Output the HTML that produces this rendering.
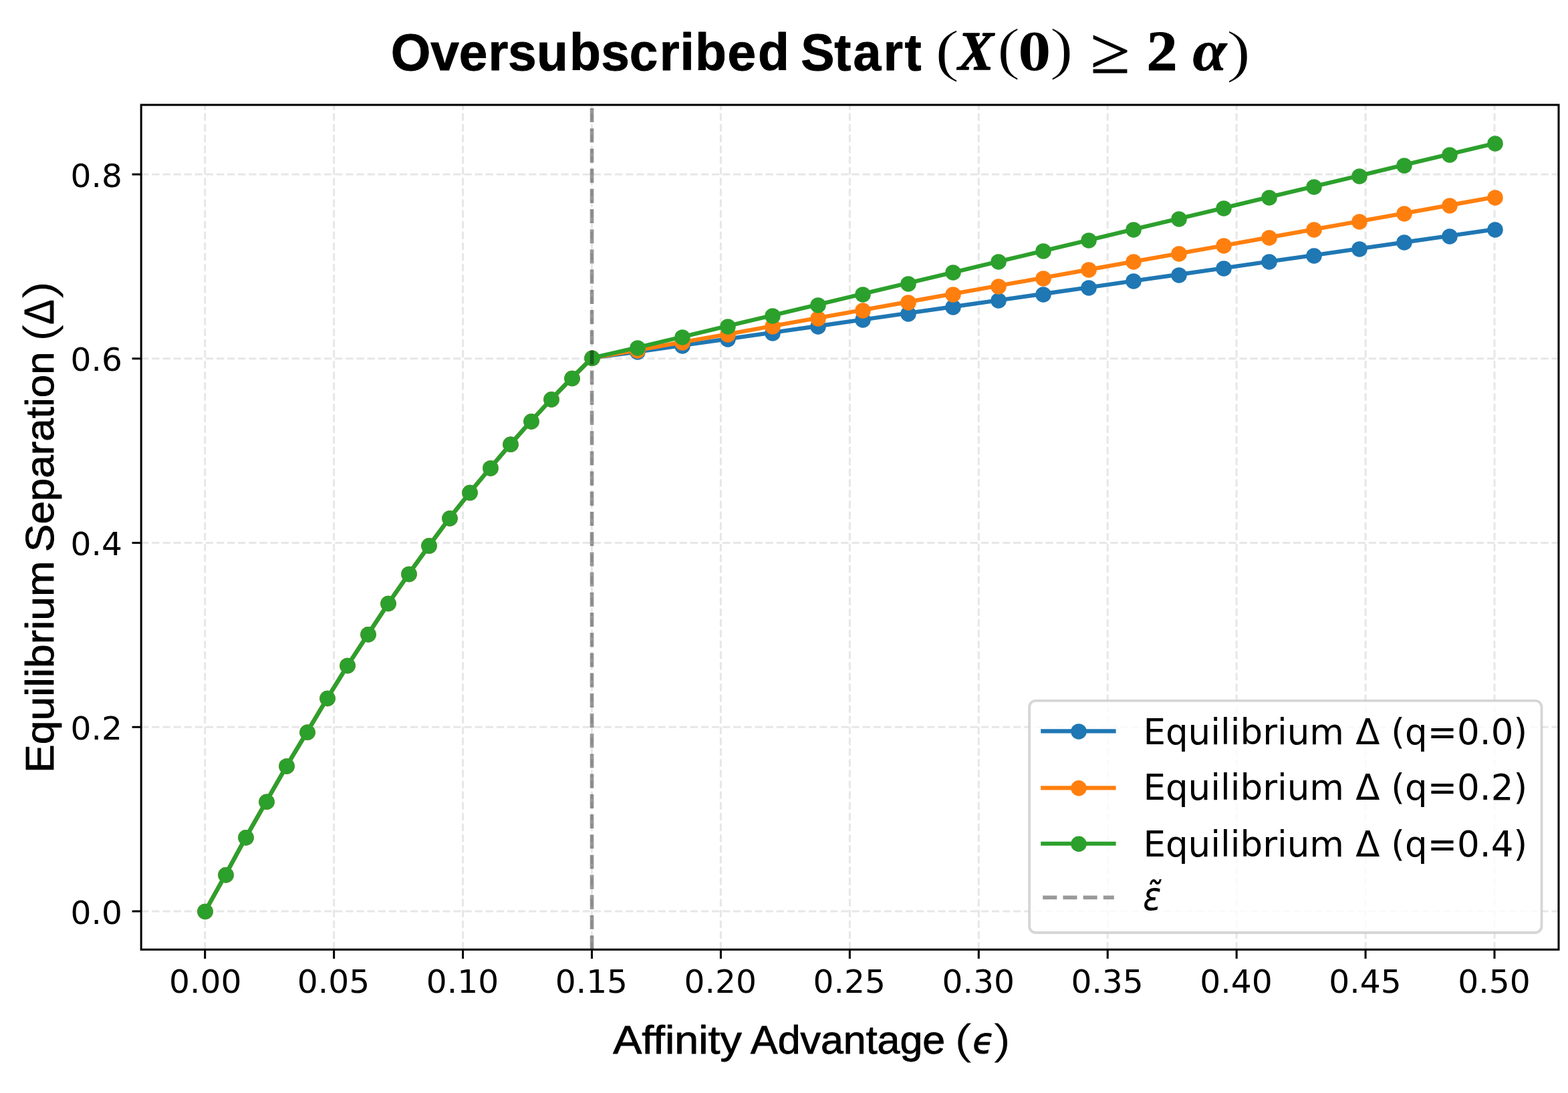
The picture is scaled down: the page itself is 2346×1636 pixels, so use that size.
<!DOCTYPE html>
<html lang="en"><head><meta charset="utf-8"><title>Oversubscribed Start (X(0) ≥ 2 α)</title>
<style>html,body{margin:0;padding:0;background:#fff}body{width:2346px;height:1636px;overflow:hidden}svg{display:block}</style></head>
<body>
<svg width="2346" height="1636" viewBox="0 0 2346 1636" role="img" aria-label="Oversubscribed Start line chart">
<rect width="2346" height="1636" fill="#fff"/>
<path d="M306.7 1421.3V157M499.63 1421.3V157M692.56 1421.3V157M885.49 1421.3V157M1078.42 1421.3V157M1271.35 1421.3V157M1464.28 1421.3V157M1657.21 1421.3V157M1850.14 1421.3V157M2043.07 1421.3V157M2236 1421.3V157M211.2 1364H2332M211.2 1088.25H2332M211.2 812.5H2332M211.2 536.75H2332M211.2 261H2332" fill="none" stroke="#b0b0b0" stroke-opacity="0.3" stroke-width="3.05" stroke-dasharray="11.25 4.86"/>
<g fill="#1f77b4" stroke="#1f77b4">
<path d="M307 1363.9L337.46 1309.2L367.93 1253.2L398.39 1199.8L428.85 1146.4L459.31 1095.8L489.78 1045L520.24 995.9L550.7 949.3L581.16 903L611.63 858.9L642.09 816.6L672.55 775.5L703.01 737.1L733.48 700.4L763.94 664.8L794.4 630.5L824.86 597.5L855.33 566L885.79 535.7L953.32 526.7L1020.84 517.05L1088.37 507.4L1155.89 497.75L1223.42 488.09L1290.94 478.44L1358.47 468.79L1425.99 459.14L1493.52 449.49L1561.04 439.84L1628.57 430.19L1696.1 420.54L1763.62 410.88L1831.15 401.23L1898.67 391.58L1966.2 381.93L2033.72 372.28L2101.25 362.63L2168.77 352.98L2236.3 343.33" fill="none" stroke-width="6.15" stroke-linejoin="round" stroke-linecap="square"/>
<g stroke="none"><circle cx="307" cy="1364.4" r="11.75"/><circle cx="338" cy="1309.7" r="11.75"/><circle cx="368" cy="1253.7" r="11.75"/><circle cx="399" cy="1200.3" r="11.75"/><circle cx="429" cy="1146.9" r="11.75"/><circle cx="460" cy="1096.3" r="11.75"/><circle cx="490" cy="1045.5" r="11.75"/><circle cx="520" cy="996.4" r="11.75"/><circle cx="551" cy="949.8" r="11.75"/><circle cx="581" cy="903.5" r="11.75"/><circle cx="612" cy="859.4" r="11.75"/><circle cx="642" cy="817.1" r="11.75"/><circle cx="673" cy="776" r="11.75"/><circle cx="703" cy="737.6" r="11.75"/><circle cx="734" cy="700.9" r="11.75"/><circle cx="764" cy="665.3" r="11.75"/><circle cx="795" cy="631" r="11.75"/><circle cx="825" cy="598" r="11.75"/><circle cx="856" cy="566.5" r="11.75"/><circle cx="886" cy="536.2" r="11.75"/><circle cx="954" cy="526.9" r="11.75"/><circle cx="1021" cy="517.9" r="11.75"/><circle cx="1089" cy="507.9" r="11.75"/><circle cx="1156" cy="498.9" r="11.75"/><circle cx="1224" cy="488.9" r="11.75"/><circle cx="1291" cy="478.9" r="11.75"/><circle cx="1359" cy="469.9" r="11.75"/><circle cx="1426" cy="459.9" r="11.75"/><circle cx="1494" cy="449.9" r="11.75"/><circle cx="1561" cy="440.9" r="11.75"/><circle cx="1629" cy="430.9" r="11.75"/><circle cx="1696" cy="420.9" r="11.75"/><circle cx="1764" cy="411.9" r="11.75"/><circle cx="1831" cy="401.9" r="11.75"/><circle cx="1899" cy="391.9" r="11.75"/><circle cx="1966" cy="382.9" r="11.75"/><circle cx="2034" cy="372.9" r="11.75"/><circle cx="2101" cy="362.9" r="11.75"/><circle cx="2169" cy="353.9" r="11.75"/><circle cx="2237" cy="343.9" r="11.75"/></g>
</g>
<g fill="#ff7f0e" stroke="#ff7f0e">
<path d="M307 1363.9L337.46 1309.2L367.93 1253.2L398.39 1199.8L428.85 1146.4L459.31 1095.8L489.78 1045L520.24 995.9L550.7 949.3L581.16 903L611.63 858.9L642.09 816.6L672.55 775.5L703.01 737.1L733.48 700.4L763.94 664.8L794.4 630.5L824.86 597.5L855.33 566L885.79 535.7L953.32 524.29L1020.84 512.22L1088.37 500.16L1155.89 488.09L1223.42 476.03L1290.94 463.97L1358.47 451.9L1425.99 439.84L1493.52 427.77L1561.04 415.71L1628.57 403.65L1696.1 391.58L1763.62 379.52L1831.15 367.45L1898.67 355.39L1966.2 343.33L2033.72 331.26L2101.25 319.2L2168.77 307.13L2236.3 295.07" fill="none" stroke-width="6.15" stroke-linejoin="round" stroke-linecap="square"/>
<g stroke="none"><circle cx="307" cy="1364.4" r="11.75"/><circle cx="338" cy="1309.7" r="11.75"/><circle cx="368" cy="1253.7" r="11.75"/><circle cx="399" cy="1200.3" r="11.75"/><circle cx="429" cy="1146.9" r="11.75"/><circle cx="460" cy="1096.3" r="11.75"/><circle cx="490" cy="1045.5" r="11.75"/><circle cx="520" cy="996.4" r="11.75"/><circle cx="551" cy="949.8" r="11.75"/><circle cx="581" cy="903.5" r="11.75"/><circle cx="612" cy="859.4" r="11.75"/><circle cx="642" cy="817.1" r="11.75"/><circle cx="673" cy="776" r="11.75"/><circle cx="703" cy="737.6" r="11.75"/><circle cx="734" cy="700.9" r="11.75"/><circle cx="764" cy="665.3" r="11.75"/><circle cx="795" cy="631" r="11.75"/><circle cx="825" cy="598" r="11.75"/><circle cx="856" cy="566.5" r="11.75"/><circle cx="886" cy="536.2" r="11.75"/><circle cx="954" cy="524.9" r="11.75"/><circle cx="1021" cy="512.9" r="11.75"/><circle cx="1089" cy="500.9" r="11.75"/><circle cx="1156" cy="488.9" r="11.75"/><circle cx="1224" cy="476.9" r="11.75"/><circle cx="1291" cy="464.9" r="11.75"/><circle cx="1359" cy="452.9" r="11.75"/><circle cx="1426" cy="440.9" r="11.75"/><circle cx="1494" cy="428.9" r="11.75"/><circle cx="1561" cy="416.9" r="11.75"/><circle cx="1629" cy="403.9" r="11.75"/><circle cx="1696" cy="391.9" r="11.75"/><circle cx="1764" cy="379.9" r="11.75"/><circle cx="1831" cy="367.9" r="11.75"/><circle cx="1899" cy="355.9" r="11.75"/><circle cx="1966" cy="343.9" r="11.75"/><circle cx="2034" cy="331.9" r="11.75"/><circle cx="2101" cy="319.9" r="11.75"/><circle cx="2169" cy="307.9" r="11.75"/><circle cx="2237" cy="295.9" r="11.75"/></g>
</g>
<g fill="#2ca02c" stroke="#2ca02c">
<path d="M307 1363.9L337.46 1309.2L367.93 1253.2L398.39 1199.8L428.85 1146.4L459.31 1095.8L489.78 1045L520.24 995.9L550.7 949.3L581.16 903L611.63 858.9L642.09 816.6L672.55 775.5L703.01 737.1L733.48 700.4L763.94 664.8L794.4 630.5L824.86 597.5L855.33 566L885.79 535.7L953.32 520.26L1020.84 504.18L1088.37 488.09L1155.89 472.01L1223.42 455.92L1290.94 439.84L1358.47 423.75L1425.99 407.67L1493.52 391.58L1561.04 375.5L1628.57 359.41L1696.1 343.33L1763.62 327.24L1831.15 311.15L1898.67 295.07L1966.2 278.98L2033.72 262.9L2101.25 246.81L2168.77 230.73L2236.3 214.64" fill="none" stroke-width="6.15" stroke-linejoin="round" stroke-linecap="square"/>
<g stroke="none"><circle cx="307" cy="1364.4" r="11.75"/><circle cx="338" cy="1309.7" r="11.75"/><circle cx="368" cy="1253.7" r="11.75"/><circle cx="399" cy="1200.3" r="11.75"/><circle cx="429" cy="1146.9" r="11.75"/><circle cx="460" cy="1096.3" r="11.75"/><circle cx="490" cy="1045.5" r="11.75"/><circle cx="520" cy="996.4" r="11.75"/><circle cx="551" cy="949.8" r="11.75"/><circle cx="581" cy="903.5" r="11.75"/><circle cx="612" cy="859.4" r="11.75"/><circle cx="642" cy="817.1" r="11.75"/><circle cx="673" cy="776" r="11.75"/><circle cx="703" cy="737.6" r="11.75"/><circle cx="734" cy="700.9" r="11.75"/><circle cx="764" cy="665.3" r="11.75"/><circle cx="795" cy="631" r="11.75"/><circle cx="825" cy="598" r="11.75"/><circle cx="856" cy="566.5" r="11.75"/><circle cx="886" cy="536.2" r="11.75"/><circle cx="954" cy="520.9" r="11.75"/><circle cx="1021" cy="504.9" r="11.75"/><circle cx="1089" cy="488.9" r="11.75"/><circle cx="1156" cy="472.9" r="11.75"/><circle cx="1224" cy="456.9" r="11.75"/><circle cx="1291" cy="440.9" r="11.75"/><circle cx="1359" cy="424.9" r="11.75"/><circle cx="1426" cy="407.9" r="11.75"/><circle cx="1494" cy="391.9" r="11.75"/><circle cx="1561" cy="375.9" r="11.75"/><circle cx="1629" cy="359.9" r="11.75"/><circle cx="1696" cy="343.9" r="11.75"/><circle cx="1764" cy="327.9" r="11.75"/><circle cx="1831" cy="311.9" r="11.75"/><circle cx="1899" cy="295.9" r="11.75"/><circle cx="1966" cy="279.9" r="11.75"/><circle cx="2034" cy="263.9" r="11.75"/><circle cx="2101" cy="247.9" r="11.75"/><circle cx="2169" cy="231.9" r="11.75"/><circle cx="2237" cy="214.9" r="11.75"/></g>
</g>
<path d="M885.59 1421.3V157" fill="none" stroke="#000" stroke-opacity="0.4" stroke-width="5.7" stroke-dasharray="21.08 9.12"/>
<rect x="1540.1" y="1048.9" width="766.4" height="347.1" rx="9.5" fill="#fff" fill-opacity="0.8" stroke="#ccc" stroke-opacity="0.8" stroke-width="3.8"/>
<path d="M1557.2 1094.4H1669.6" stroke="#1f77b4" stroke-width="6.15" fill="none"/><circle cx="1614" cy="1094.9" r="11.75" fill="#1f77b4"/>
<path d="M1557.2 1179.3H1669.6" stroke="#ff7f0e" stroke-width="6.15" fill="none"/><circle cx="1614" cy="1179.8" r="11.75" fill="#ff7f0e"/>
<path d="M1557.2 1262.7H1669.6" stroke="#2ca02c" stroke-width="6.15" fill="none"/><circle cx="1614" cy="1263.2" r="11.75" fill="#2ca02c"/>
<path d="M1560.2 1343.4H1666.8" stroke="#000" stroke-opacity="0.4" stroke-width="5.7" stroke-dasharray="21.08 9.12" fill="none"/>
<rect x="211.2" y="157.0" width="2120.8" height="1264.3" fill="none" stroke="#000" stroke-width="3.05"/>
<path d="M306.7 1421.3v13.6M499.63 1421.3v13.6M692.56 1421.3v13.6M885.49 1421.3v13.6M1078.42 1421.3v13.6M1271.35 1421.3v13.6M1464.28 1421.3v13.6M1657.21 1421.3v13.6M1850.14 1421.3v13.6M2043.07 1421.3v13.6M2236 1421.3v13.6M211.2 1364h-13.6M211.2 1088.25h-13.6M211.2 812.5h-13.6M211.2 536.75h-13.6M211.2 261h-13.6" fill="none" stroke="#000" stroke-width="3.05"/>
<g font-family="'DejaVu Sans', sans-serif" font-size="48.7" fill="#000">
<g text-anchor="middle"><text transform="translate(307.3 1485.9) scale(1 0.98)">0.00</text> <text transform="translate(499.03 1485.9) scale(1 0.98)">0.05</text> <text transform="translate(691.96 1485.9) scale(1 0.98)">0.10</text> <text transform="translate(884.89 1485.9) scale(1 0.98)">0.15</text> <text transform="translate(1077.82 1485.9) scale(1 0.98)">0.20</text> <text transform="translate(1270.75 1485.9) scale(1 0.98)">0.25</text> <text transform="translate(1463.68 1485.9) scale(1 0.98)">0.30</text> <text transform="translate(1656.61 1485.9) scale(1 0.98)">0.35</text> <text transform="translate(1849.54 1485.9) scale(1 0.98)">0.40</text> <text transform="translate(2042.47 1485.9) scale(1 0.98)">0.45</text> <text transform="translate(2235.4 1485.9) scale(1 0.98)">0.50</text></g>
<g text-anchor="end"><text transform="translate(182.9 1382.6) scale(1 0.98)">0.0</text> <text transform="translate(182.9 1106.85) scale(1 0.98)">0.2</text> <text transform="translate(182.9 831.1) scale(1 0.98)">0.4</text> <text transform="translate(182.9 555.35) scale(1 0.98)">0.6</text> <text transform="translate(182.9 279.6) scale(1 0.98)">0.8</text></g>
</g>
<g fill="#000"><g id="title"><text transform="translate(0 104.58) scale(0.7668 0.7718)" x="762.5 840.2 895.6 952.8 991.0 1047.1 1111.0 1172.7 1228.3 1286.8 1327.1 1356.3 1419.6 1478.8" font-family="'Liberation Sans', sans-serif" font-size="100" font-weight="bold" stroke="#000" stroke-width="0.9" stroke-linejoin="round" vector-effect="non-scaling-stroke">Oversubscribed</text> <text transform="translate(0 104.58) scale(0.7520 0.7718)" x="1593.3 1659.9 1697.4 1757.8 1800.0" font-family="'Liberation Sans', sans-serif" font-size="100" font-weight="bold" stroke="#000" stroke-width="0.9" stroke-linejoin="round" vector-effect="non-scaling-stroke">Start</text> <text transform="translate(1399.10 105.35) scale(1.0904 0.8708)" font-family="'Liberation Serif', serif" font-size="100" stroke="#fff" stroke-width="1.4" stroke-linejoin="round" vector-effect="non-scaling-stroke">(</text><text transform="translate(1433.50 104.40) scale(0.7982 0.8353)" font-family="'Liberation Serif', serif" font-size="100" font-weight="bold" font-style="italic" stroke="#000" stroke-width="1.4" stroke-linejoin="round" vector-effect="non-scaling-stroke">X</text><text transform="translate(1491.82 101.54) scale(1.0398 0.8664)" font-family="'Liberation Serif', serif" font-size="100" stroke="#fff" stroke-width="1.4" stroke-linejoin="round" vector-effect="non-scaling-stroke">(</text><text transform="translate(1523.16 104.95) scale(0.9795 0.8536)" font-family="'Liberation Serif', serif" font-size="100" font-weight="bold">0</text><text transform="translate(1570.47 101.54) scale(1.0601 0.8659)" font-family="'Liberation Serif', serif" font-size="100" stroke="#fff" stroke-width="1.4" stroke-linejoin="round" vector-effect="non-scaling-stroke">)</text> <text transform="translate(1631.84 108.80) scale(1.0679 0.9734)" font-family="'Liberation Serif', serif" font-size="100" stroke="#000" stroke-width="1.2" stroke-linejoin="round" vector-effect="non-scaling-stroke">≥</text> <text transform="translate(1715.52 104.60) scale(0.9207 0.8455)" font-family="'Liberation Serif', serif" font-size="100" font-weight="bold" stroke="#000" stroke-width="1.0" stroke-linejoin="round" vector-effect="non-scaling-stroke">2</text> <text transform="translate(1784.58 104.63) scale(0.9185 0.8729)" font-family="'Liberation Serif', serif" font-size="100" font-weight="bold" font-style="italic" stroke="#000" stroke-width="0.6" stroke-linejoin="round" vector-effect="non-scaling-stroke">α</text><text transform="translate(1834.85 105.65) scale(1.0991 0.8748)" font-family="'Liberation Serif', serif" font-size="100" stroke="#fff" stroke-width="1.4" stroke-linejoin="round" vector-effect="non-scaling-stroke">)</text></g>
<g id="xlabel"><text transform="translate(917.21 1576.51) scale(0.6454 0.5914)" font-family="'Liberation Sans', sans-serif" font-size="100" stroke="#000" stroke-width="0.9" stroke-linejoin="round" vector-effect="non-scaling-stroke">Affinity</text> <text transform="translate(1123.12 1576.51) scale(0.6087 0.5914)" font-family="'Liberation Sans', sans-serif" font-size="100" stroke="#000" stroke-width="0.9" stroke-linejoin="round" vector-effect="non-scaling-stroke">Advantage</text> <text transform="translate(1427.63 1577.78) scale(0.8162 0.6535)" font-family="'Liberation Sans', sans-serif" font-size="100" stroke="#fff" stroke-width="1.0" stroke-linejoin="round" vector-effect="non-scaling-stroke">(</text><text transform="translate(1455.19 1576.20) scale(0.5267 0.5357)" font-family="'DejaVu Sans', sans-serif" font-size="100" font-style="italic" stroke="#000" stroke-width="1.0" stroke-linejoin="round" vector-effect="non-scaling-stroke">ϵ</text><text transform="translate(1485.86 1577.78) scale(0.8060 0.6535)" font-family="'Liberation Sans', sans-serif" font-size="100" stroke="#fff" stroke-width="1.0" stroke-linejoin="round" vector-effect="non-scaling-stroke">)</text></g>
<g id="ylabel"><text transform="translate(80.05 1157.12) rotate(-90) scale(0.6425 0.5957)" font-family="'Liberation Sans', sans-serif" font-size="100" stroke="#000" stroke-width="0.9" stroke-linejoin="round" vector-effect="non-scaling-stroke">Equilibrium</text> <text transform="translate(80.15 825.92) rotate(-90) scale(0.6193 0.5972)" font-family="'Liberation Sans', sans-serif" font-size="100" stroke="#000" stroke-width="0.9" stroke-linejoin="round" vector-effect="non-scaling-stroke">Separation</text> <text transform="translate(81.34 511.60) rotate(-90) scale(0.8048 0.6599)" font-family="'Liberation Sans', sans-serif" font-size="100" stroke="#fff" stroke-width="1.0" stroke-linejoin="round" vector-effect="non-scaling-stroke">(</text><text transform="translate(80.05 485.72) rotate(-90) scale(0.5593 0.6290)" font-family="'Liberation Sans', sans-serif" font-size="100" stroke="#000" stroke-width="0.9" stroke-linejoin="round" vector-effect="non-scaling-stroke">Δ</text><text transform="translate(81.34 447.97) rotate(-90) scale(0.8440 0.6599)" font-family="'Liberation Sans', sans-serif" font-size="100" stroke="#fff" stroke-width="1.0" stroke-linejoin="round" vector-effect="non-scaling-stroke">)</text></g>
<g id="legend-labels"><text transform="translate(1710.39 1113.60) scale(0.5899 0.5347)" font-family="'DejaVu Sans Condensed', 'DejaVu Sans', sans-serif" font-size="100">Equilibrium</text> <text transform="translate(2028.23 1113.60) scale(0.5303 0.5384)" font-family="'DejaVu Sans', sans-serif" font-size="100">Δ (q=0.0)</text>
<text transform="translate(1710.39 1197.00) scale(0.5899 0.5347)" font-family="'DejaVu Sans Condensed', 'DejaVu Sans', sans-serif" font-size="100">Equilibrium</text> <text transform="translate(2028.23 1197.00) scale(0.5303 0.5384)" font-family="'DejaVu Sans', sans-serif" font-size="100">Δ (q=0.2)</text>
<text transform="translate(1710.39 1281.80) scale(0.5899 0.5347)" font-family="'DejaVu Sans Condensed', 'DejaVu Sans', sans-serif" font-size="100">Equilibrium</text> <text transform="translate(2028.23 1281.80) scale(0.5303 0.5384)" font-family="'DejaVu Sans', sans-serif" font-size="100">Δ (q=0.4)</text>
<text transform="translate(1710.01 1361.86) scale(0.5088 0.5931)" font-family="'DejaVu Sans', sans-serif" font-size="100" font-style="italic">ε̃</text></g></g>
</svg>
</body></html>
